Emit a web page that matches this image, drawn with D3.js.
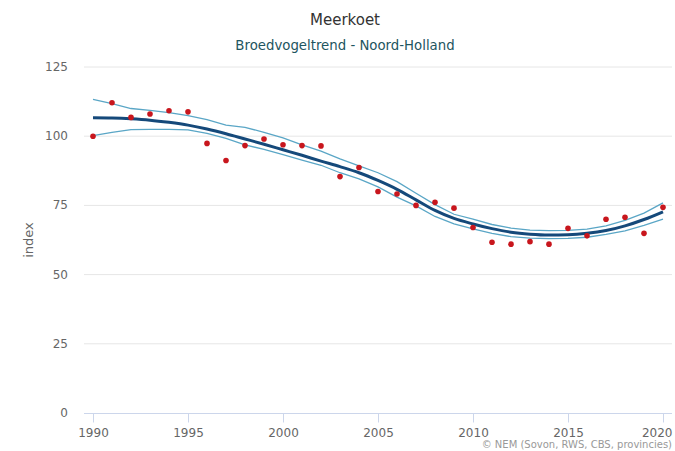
<!DOCTYPE html>
<html lang="nl">
<head>
  <meta charset="UTF-8">
  <title>Meerkoet - Broedvogeltrend Noord-Holland</title>
  <script src="https://d3js.org/d3.v7.min.js"></script>
  <style>
    body { margin: 0; background: #fff; }
    svg { display: block; font-family: "DejaVu Sans", Verdana, sans-serif; }
  </style>
</head>
<body>
<svg width="675" height="451"></svg>
<script>
const years = d3.range(1990, 2021);

// jaarindex (punten)
const indexValues = [100.0, 112.1, 106.8, 108.0, 109.2, 108.8, 97.4, 91.2, 96.6, 99.0,
  96.9, 96.6, 96.5, 85.4, 88.7, 80.0, 79.1, 75.0, 76.1, 74.0,
  67.0, 61.7, 61.0, 61.9, 61.0, 66.7, 64.0, 70.0, 70.7, 64.9, 74.3];

// trendlijn
const trendValues = [106.7, 106.6, 106.3, 105.8, 105.0, 104.0, 102.6, 100.9, 99.0, 97.1,
  95.1, 93.1, 91.0, 89.0, 86.8, 84.0, 80.8, 77.0, 73.2, 70.3,
  68.3, 66.6, 65.3, 64.6, 64.3, 64.4, 64.9, 65.9, 67.6, 69.9, 72.7];

// betrouwbaarheidsband
const upperValues = [113.3, 111.8, 110.0, 109.3, 108.5, 107.4, 106.0, 104.0, 103.2, 101.4,
  99.4, 96.9, 94.6, 91.8, 89.3, 86.8, 83.6, 79.4, 75.3, 71.8,
  70.0, 68.1, 66.8, 66.1, 65.9, 66.0, 66.4, 67.6, 69.6, 72.2, 75.9];
const lowerValues = [100.2, 101.4, 102.4, 102.5, 102.5, 102.3, 101.0, 99.2, 96.9, 95.2,
  93.3, 91.4, 89.5, 86.8, 84.6, 81.7, 78.0, 74.8, 71.0, 68.3,
  66.5, 64.9, 63.7, 63.2, 63.0, 63.1, 63.5, 64.5, 65.8, 67.8, 70.0];

const yTicks = [0, 25, 50, 75, 100, 125];
const xTicks = [1990, 1995, 2000, 2005, 2010, 2015, 2020];

const svg = d3.select('svg');

const x = d3.scaleLinear().domain([1990, 2020]).range([93, 663]);
const y = d3.scaleLinear().domain([0, 125]).range([413, 67]);

// gridlines
svg.append('g')
  .selectAll('line')
  .data(yTicks.filter(d => d > 0))
  .enter().append('line')
  .attr('x1', 84).attr('x2', 672)
  .attr('y1', d => y(d)).attr('y2', d => y(d))
  .attr('stroke', '#e6e6e6').attr('stroke-width', 1);

// y labels
svg.append('g')
  .selectAll('text')
  .data(yTicks)
  .enter().append('text')
  .attr('x', 68)
  .attr('y', d => y(d) + 4)
  .attr('text-anchor', 'end')
  .attr('font-size', 12)
  .attr('fill', '#666')
  .text(d => d);

// x axis
const xAxis = d3.axisBottom(x)
  .tickValues(xTicks)
  .tickFormat(d3.format('d'))
  .tickSize(9)
  .tickPadding(6);

const gx = svg.append('g')
  .attr('transform', 'translate(0,413.5)')
  .call(xAxis);
gx.select('.domain').attr('d', 'M84,0H672').attr('stroke', '#ccd6eb');
gx.selectAll('.tick line').attr('stroke', '#ccd6eb');
gx.selectAll('.tick text')
  .attr('font-size', 12)
  .attr('fill', '#666')
  .attr('font-family', '"DejaVu Sans", Verdana, sans-serif');
// laatste label binnen de grafiek houden
gx.selectAll('.tick text')
  .filter(d => d === 2020)
  .attr('text-anchor', 'end')
  .attr('x', 672 - x(2020));

// axis title
svg.append('text')
  .attr('transform', 'translate(33,240) rotate(-90)')
  .attr('text-anchor', 'middle')
  .attr('font-size', 13)
  .attr('fill', '#666')
  .text('index');

const line = d3.line()
  .x((d, i) => x(years[i]))
  .y(d => y(d));

const smooth = d3.line()
  .x((d, i) => x(years[i]))
  .y(d => y(d))
  .curve(d3.curveMonotoneX);

svg.append('path')
  .datum(upperValues)
  .attr('d', line)
  .attr('fill', 'none')
  .attr('stroke', '#5aa6c6')
  .attr('stroke-width', 1.3);

svg.append('path')
  .datum(lowerValues)
  .attr('d', line)
  .attr('fill', 'none')
  .attr('stroke', '#5aa6c6')
  .attr('stroke-width', 1.3);

svg.append('path')
  .datum(trendValues)
  .attr('d', smooth)
  .attr('fill', 'none')
  .attr('stroke', '#15497a')
  .attr('stroke-width', 3);

svg.append('g')
  .selectAll('circle')
  .data(indexValues)
  .enter().append('circle')
  .attr('cx', (d, i) => x(years[i]))
  .attr('cy', d => y(d))
  .attr('r', 2.8)
  .attr('fill', '#c8161d');

// titels
svg.append('text')
  .attr('x', 345).attr('y', 25)
  .attr('text-anchor', 'middle')
  .attr('font-size', 15)
  .attr('fill', '#333')
  .text('Meerkoet');

svg.append('text')
  .attr('x', 345).attr('y', 50)
  .attr('text-anchor', 'middle')
  .attr('font-size', 13.3)
  .attr('fill', '#1e5560')
  .text('Broedvogeltrend - Noord-Holland');

svg.append('text')
  .attr('x', 672).attr('y', 448)
  .attr('text-anchor', 'end')
  .attr('font-size', 10)
  .attr('fill', '#999')
  .text('© NEM (Sovon, RWS, CBS, provincies)');
</script>
</body>
</html>
